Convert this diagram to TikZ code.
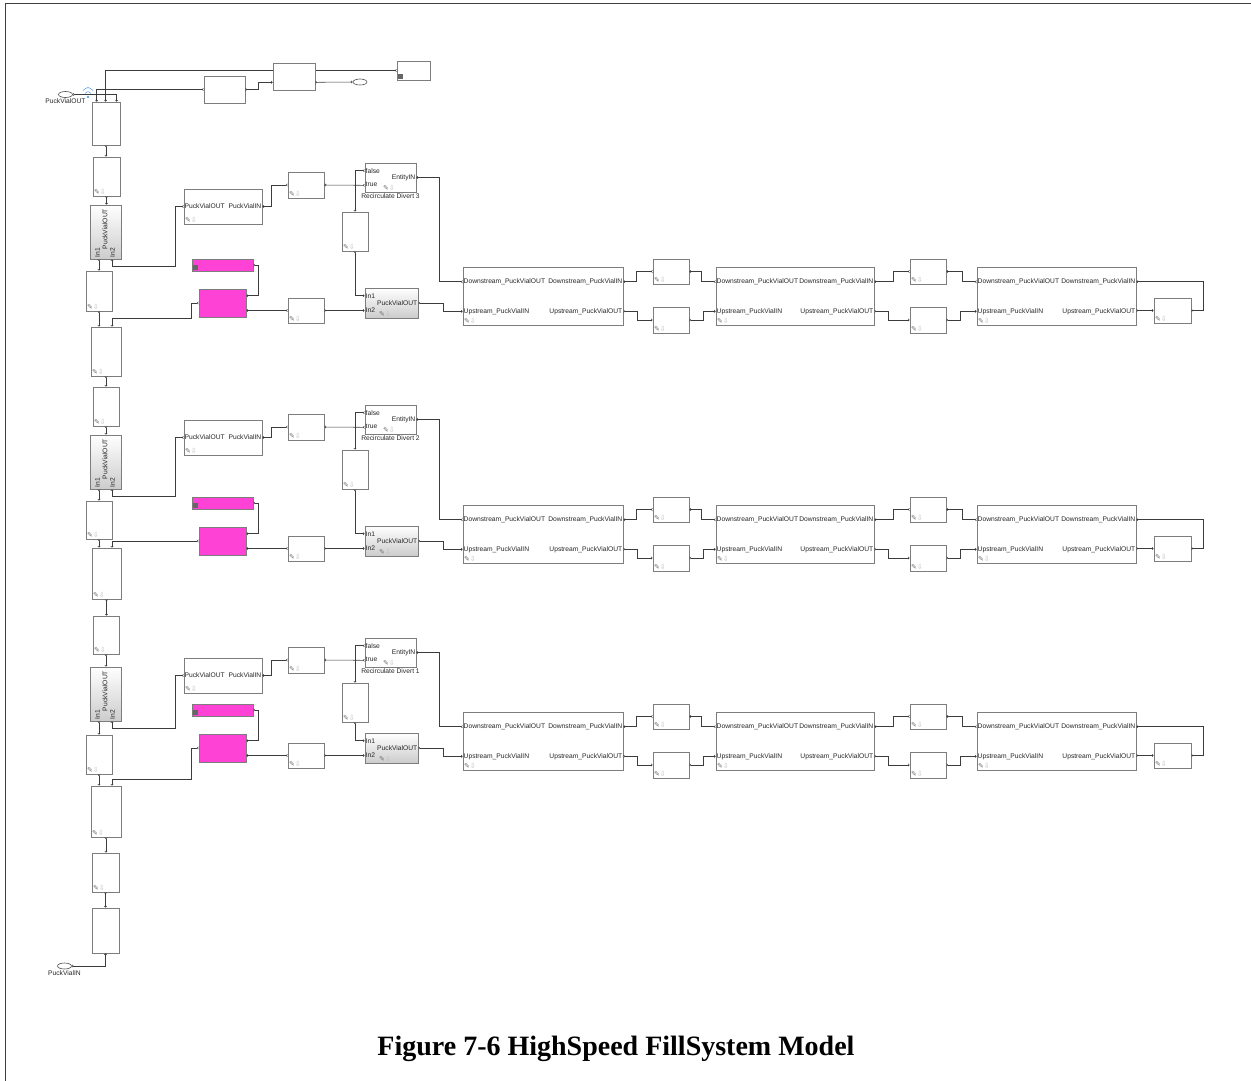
\documentclass[tikz,border=0pt]{standalone}
\usepackage{fontspec}
\setmainfont{Liberation Serif}
\setsansfont{Liberation Sans}
\newfontfamily\symfont{DejaVu Sans}
\usetikzlibrary{arrows.meta, fit, shapes.geometric}

\definecolor{blkline}{RGB}{125,125,125}
\definecolor{wire}{RGB}{60,60,60}
\definecolor{hotpink}{RGB}{255,66,214}
\definecolor{bcast}{RGB}{95,165,230}

\tikzset{
  blk/.style={draw=blkline, line width=.6pt, fill=white, inner sep=0pt},
  gblk/.style={draw=blkline, line width=.6pt, top color=white, bottom color=black!20, inner sep=0pt},
  pinkblk/.style={draw=blkline, line width=.6pt, fill=hotpink, inner sep=0pt},
  sig/.style={draw=wire, line width=.55pt, {Straight Barb[reversed,length=1.2pt,width=2.4pt]}-{Straight Barb[length=1.2pt,width=2.4pt]}},
  lbl/.style={font=\sffamily\fontsize{6.7}{7.5}\selectfont, inner sep=.8pt, text=black!85},
  pen/.style={anchor=south west, inner sep=1.2pt, font=\symfont\fontsize{7}{7}\selectfont, text=black!55},
  port/.style={ellipse, draw=black!70, line width=.6pt, minimum width=14pt, minimum height=6pt, inner sep=0pt},
}
\newcommand{\penicon}{✎{\color{black!25}⇩}}

\begin{document}
\begin{tikzpicture}[x=1pt, y=-1pt]
  \useasboundingbox (0,0) rectangle (1251,1080);
  \draw[black!75, line width=1.6pt] (5.5,1100) -- (5.5,3.5) -- (1270,3.5);

  \coordinate (c99) at (99,0);
  \coordinate (c112) at (112,0);

  % left column
  \foreach \n/\xa/\ya/\xb/\yb in {1/92/102/120/145, 2/93/157/120/196, 4/86/271/112/311,
      5/91/327/121/376, 6/93/387/119/426, 8/86/501/112/539, 9/92/548/121/599,
      10/93/616/119/654, 12/86/735/112/774, 13/91/786/121/837, 14/92/853/119/892,
      15/92/908/119/953}
    \node[blk, fit={(\xa,\ya) (\xb,\yb)}] (L\n) {};
  \foreach \n/\y in {3/205, 7/435, 11/667}{
    \node[gblk, fit={(90,\y) (121,\y+54)}] (L\n) {};
    \node[lbl, rotate=90] at (105,\y+24) {PuckVialOUT};
    \node[lbl, rotate=90, anchor=west] at (97.5,\y+53) {In1};
    \node[lbl, rotate=90, anchor=west] at (112.5,\y+53) {In2};
  }
  \foreach \b in {L2,L4,L5,L6,L8,L9,L10,L12,L13,L14}
    \node[pen] at (\b.south west) {\penicon};

  \foreach \a/\b in {1/2, 2/3, 5/6, 6/7, 9/10, 10/11, 13/14, 14/15}
    \draw[sig] (L\a.south) -- (L\a.south |- L\b.north);
  \foreach \a/\b in {3/4, 4/5, 7/8, 8/9, 11/12, 12/13}
    \draw[sig] (L\a.south -| c99) -- (L\b.north -| c99);

  \node[port, label={[lbl]below:PuckVialIN}] (pin) at (64.5,966) {};
  \draw[sig] (pin.east) -| (L15.south);

  % top part
  \node[port, label={[lbl]below:PuckVialOUT}] (pout) at (65.5,94.5) {};
  \fill[bcast] (88,97) circle (1.3pt);
  \draw[bcast, line width=.6pt] (85,93.5) .. controls (88,91) .. (91,93.5);
  \draw[bcast, line width=.6pt] (83,90.5) .. controls (88,86.5) .. (93,90.5);
  \draw[sig] (pout.east) -| ([xshift=25pt]L1.north west);

  \node[blk, fit={(397,61) (430,80)}] (T3) {};
  \fill[black!60] ([shift={(1pt,1pt)}]T3.south west) rectangle ++(5.5pt,5.5pt);
  \node[blk, fit={(204,76) (245,103)}] (T1) {};
  \draw[sig] (T3.west) -| ([xshift=14pt]L1.north west);
  \draw[sig] (T1.west) -| ([xshift=5pt]L1.north west);
  \node[blk, fit={(273,63) (315,90)}] (T2) {};
  \draw[sig] (T1.east) -- ++(13,0) |- ([yshift=8pt]T2.south west);
  \node[port] (pend) at (360,82) {};
  \draw[sig] ([yshift=8pt]T2.south east) -- (pend.west);

  % three divert sections
  \foreach \r/\yl/\ya/\yv/\yc/\yw/\ye/\g/\k/\m in {3/0/0/0/0/0/318/L3/L4/L5,
      2/230/231/242/238/238/541/L7/L8/L9, 1/462/469/475/471/445/779/L11/L12/L13}{
    \node[blk, fit={(184,189+\ya) (262,224+\ya)}] (A\r) {};
    \node[lbl, anchor=west] at (A\r.west) {PuckVialOUT};
    \node[lbl, anchor=east] at (A\r.east) {PuckVialIN};
    \node[blk, fit={(288,172+\yv) (324,198+\yv)}] (B\r) {};
    \node[blk, fit={(365,163+\yv) (416,192+\yv)}] (V\r) {};
    \node[lbl, anchor=west] at ([yshift=-8pt]V\r.north west) {false};
    \node[lbl, anchor=west] at ([yshift=7.5pt]V\r.south west) {true};
    \node[lbl, anchor=east] at (V\r.east) {EntityIN};
    \node[lbl, anchor=north] at (V\r.south) {Recirculate Divert \r};
    \node[blk, fit={(342,212+\yc) (368,251+\yc)}] (C\r) {};
    \node[gblk, fit={(365,288+\yw) (418,318+\yw)}] (M\r) {};
    \node[lbl, anchor=west] at ([yshift=-8pt]M\r.north west) {In1};
    \node[lbl, anchor=west] at ([yshift=8pt]M\r.south west) {In2};
    \node[lbl, anchor=east] at (M\r.east) {PuckVialOUT};
    \node[blk, fit={(288,298+\yw) (324,323+\yw)}] (D\r) {};
    \node[pinkblk, fit={(192,259+\yw) (253,271+\yw)}] (P\r) {};
    \fill[black!60] ([shift={(1pt,1pt)}]P\r.south west) rectangle ++(5pt,5pt);
    \node[pinkblk, fit={(199,289+\yw) (246,317+\yw)}] (Q\r) {};

    \foreach \i/\xa/\xb in {1/463/623, 2/716/874, 3/977/1136}{
      \node[blk, fit={(\xa,267+\yw) (\xb,325+\yw)}] (E\r\i) {};
      \node[lbl, anchor=west] at ([yshift=-15pt]E\r\i.north west) {Downstream\_PuckVialOUT};
      \node[lbl, anchor=east] at ([yshift=-15pt]E\r\i.north east) {Downstream\_PuckVialIN};
      \node[lbl, anchor=west] at ([yshift=14pt]E\r\i.south west) {Upstream\_PuckVialIN};
      \node[lbl, anchor=east] at ([yshift=14pt]E\r\i.south east) {Upstream\_PuckVialOUT};
    }
    \foreach \i/\xa in {1/653, 2/910}{
      \node[blk, fit={(\xa,259+\yw) (\xa+36,284+\yw)}] (U\r\i) {};
      \node[blk, fit={(\xa,307+\yw) (\xa+36,333+\yw)}] (W\r\i) {};
    }
    \node[blk, fit={(1154,298+\yw) (1191,323+\yw)}] (G\r) {};
    \foreach \b in {A\r,B\r,C\r,D\r,G\r,E\r1,E\r2,E\r3,U\r1,U\r2,W\r1,W\r2}
      \node[pen] at (\b.south west) {\penicon};
    \node[pen] at ([xshift=17pt]V\r.south west) {\penicon};
    \node[pen] at ([xshift=13pt]M\r.south west) {\penicon};

    % wiring
    \coordinate (e\r) at (112,\ye);
    \draw[sig] (A\r.west) -- ++(-8,0) |- ([yshift=-7pt]\g.south -| c112) -- (\g.south -| c112);
    \draw[sig] (Q\r.west) -- ++(-7,0) |- (e\r) -- (\m.north -| c112);
    \draw[sig] (B\r.west) -- ++(-16,0) |- (A\r.east);
    \draw[sig] ([yshift=7pt]V\r.south west) -- (B\r.east);
    \draw[sig] ([yshift=-8pt]V\r.north west) -| (C\r.north);
    \draw[sig] (C\r.south) |- ([yshift=-8pt]M\r.north west);
    \draw[sig] (D\r.east) -- (D\r.east -| M\r.west);
    \draw[sig] (D\r.west) -- (D\r.west -| Q\r.east);
    \draw[sig] (P\r.east) -- ++(5,0) |- ([yshift=-7pt]Q\r.north east);
    \draw[sig] ([yshift=-15pt]E\r1.north west) -- ++(-23,0) |- (V\r.east);
    \draw[sig] (M\r.east) -- ++(25,0) |- ([yshift=14pt]E\r1.south west);
    \foreach \i/\j in {1/2, 2/3}{
      \draw[sig] (U\r\i.west) -- ++(-16,0) |- ([yshift=-15pt]E\r\i.north east);
      \draw[sig] ([yshift=-15pt]E\r\j.north west) -- ++(-14,0) |- (U\r\i.east);
      \draw[sig] ([yshift=14pt]E\r\i.south east) -- ++(14,0) |- (W\r\i.west);
      \draw[sig] (W\r\i.east) -- ++(14,0) |- ([yshift=14pt]E\r\j.south west);
    }
    \draw[sig] (E\r3.south east |- G\r.west) -- (G\r.west);
    \draw[sig] (G\r.east) -- ++(12,0) |- ([yshift=-15pt]E\r3.north east);
  }

  \node[font=\rmfamily\bfseries\fontsize{28}{32}\selectfont, anchor=base] (cap) at (616,1055)
    {Figure 7-6 HighSpeed FillSystem Model};
\end{tikzpicture}
\end{document}
